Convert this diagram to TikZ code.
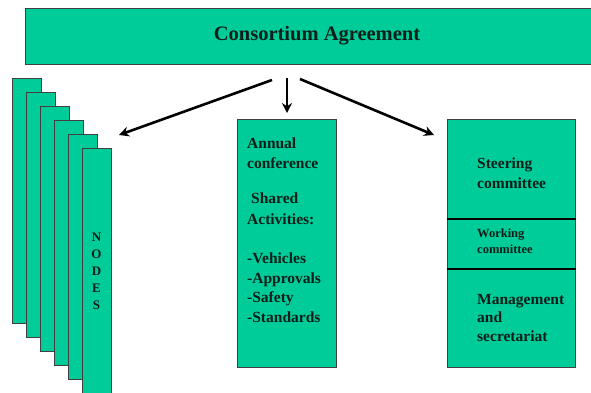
\documentclass[tikz,border=0pt]{standalone}
\usepackage{fontspec}
\setmainfont{Liberation Serif}
\usetikzlibrary{arrows.meta}
\definecolor{boxgreen}{RGB}{0,204,153}
\definecolor{textdark}{RGB}{10,30,25}
\begin{document}
\begin{tikzpicture}[x=1pt,y=-1pt,
  gbox/.style={draw=black!75, line width=0.8pt, fill=boxgreen, rectangle, inner sep=0pt, anchor=north west},
  lbl/.style={anchor=base west, inner sep=0pt, text=textdark, font=\fontsize{15.5}{18}\selectfont\bfseries},
  smalllbl/.style={anchor=base west, inner sep=0pt, text=textdark, font=\fontsize{12.5}{14}\selectfont\bfseries},
  divider/.style={line width=2.6pt, black},
  arr/.style={line width=2.6pt, -{Stealth[length=10pt,width=10pt]}}]
\useasboundingbox (0,0) rectangle (591,392);
% top box
\node[gbox, minimum width=575pt, minimum height=56pt] (top) at (25,8) {};
\node[anchor=base, inner sep=0pt, text=textdark, font=\fontsize{20.5}{24}\selectfont\bfseries] (title) at (317,40) {Consortium Agreement};
% stacked node boxes
\foreach \i in {0,...,5}
  \node[gbox, minimum width=29pt, minimum height=245pt] (n\i) at ({12+14*\i},{78+14*\i}) {};
\node[inner sep=0pt, align=center, text=textdark, font=\fontsize{13}{17}\selectfont\bfseries] (nodestxt) at (96.5,271) {N\\O\\D\\E\\S};
% middle box
\node[gbox, minimum width=99pt, minimum height=248pt] (mid) at (237,119) {};
\node[lbl] (m1) at (247,148) {Annual};
\node[lbl] (m2) at (247,168) {conference};
\node[lbl] (m3) at (251,203) {Shared};
\node[lbl] (m4) at (247,224) {Activities:};
\node[lbl] (m5) at (247,263) {-Vehicles};
\node[lbl] (m6) at (247,283) {-Approvals};
\node[lbl] (m7) at (247,302) {-Safety};
\node[lbl] (m8) at (247,322) {-Standards};
% right box
\node[gbox, minimum width=128pt, minimum height=99pt] (steer) at (447,119) {};
\node[gbox, minimum width=128pt, minimum height=50pt] (work) at (447,218) {};
\node[gbox, minimum width=128pt, minimum height=99pt] (mgmt) at (447,268) {};
\draw[divider] (steer.south west) -- (steer.south east);
\draw[divider] (work.south west) -- (work.south east);
\node[lbl] (s1) at (477,168) {Steering};
\node[lbl] (s2) at (477,188) {committee};
\node[smalllbl] (w1) at (477,237) {Working};
\node[smalllbl] (w2) at (477,253) {committee};
\node[lbl] (g1) at (477,304) {Management};
\node[lbl] (g2) at (477,322) {and};
\node[lbl] (g3) at (477,341) {secretariat};
% arrows
\coordinate (aL0) at (272,80);
\coordinate (aL1) at (119,135);
\coordinate (aC0) at (287,78);
\coordinate (aR0) at (300,79);
\coordinate (aR1) at (434,135);
\draw[arr] (aL0) -- (aL1);
\draw[arr] (aC0) -- (aC0 |- 0,113);
\draw[arr] (aR0) -- (aR1);
\end{tikzpicture}
\end{document}
